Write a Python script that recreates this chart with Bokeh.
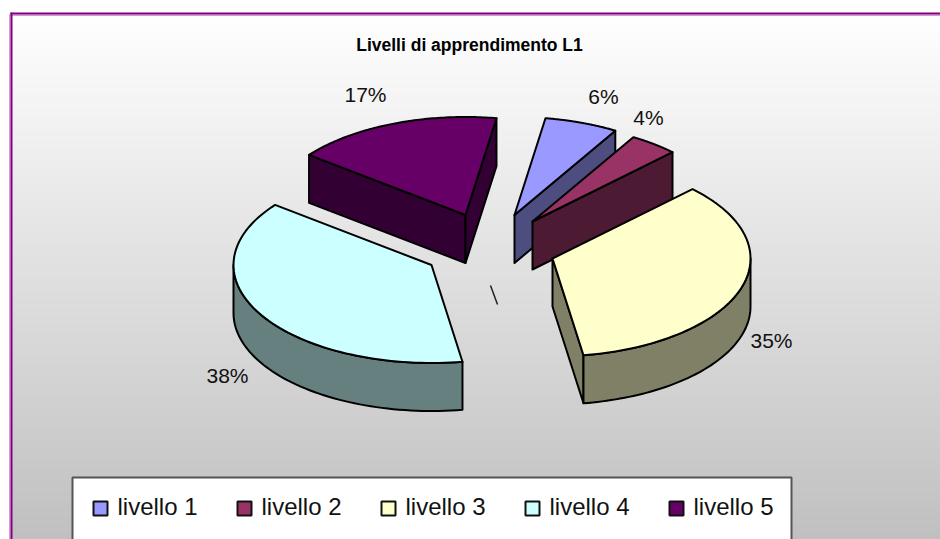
import numpy as np
from bokeh.plotting import figure
from bokeh.core.properties import value
from bokeh.embed import file_html
from bokeh.resources import INLINE

title = "Livelli di apprendimento L1"
categories = ["livello 1", "livello 2", "livello 3", "livello 4", "livello 5"]
shares = [6, 4, 35, 38, 17]
pct_labels = ["6%", "4%", "35%", "38%", "17%"]

top_colors = ["#9999FF", "#993366", "#FFFFCC", "#CCFFFF", "#660066"]
side_colors = ["#4D4D80", "#4D1A33", "#808066", "#668080", "#330033"]
apex_x = [514, 532, 552, 431, 465]
apex_y = [214.5, 221, 258, 264.5, 214.5]
label_x = [603, 648, 771, 227, 365]
label_y = [95.5, 117, 339.5, 374.5, 94]
draw_order = [4, 0, 1, 2, 3]

RX, RY, DEPTH, ROT = 198.0, 98.0, 48.0, 9.0
W, H = 940, 539
X0, Y0 = 0, 0

p = figure(width=W, height=H, x_range=(X0, X0 + W), y_range=(Y0 + H, Y0),
           output_backend="svg", toolbar_location=None, min_border=0,
           outline_line_color=None, background_fill_color="white", border_fill_color="white")
p.axis.visible = False
p.grid.visible = False

# background gradient: each band runs to the bottom, so no seams show
edges = np.arange(14, Y0 + H, 3)
shade = [255 - 63 * (e - 14) / 525 for e in edges]
p.quad(left=11, right=X0 + W, top=edges, bottom=Y0 + H,
       fill_color=["#%02x%02x%02x" % (int(s), int(s), int(s)) for s in shade], line_color=None)

# chart border
p.quad(left=[8.5, 10], right=[X0 + W, X0 + W], top=[14, 12], bottom=[15.5, 14],
       fill_color=["#d39ad3", "#800080"], line_color=None)
p.quad(left=[8.5, 10], right=[10, 12], top=[14, 12], bottom=[Y0 + H, Y0 + H],
       fill_color=["#d39ad3", "#800080"], line_color=None)

def pt(cx, cy, deg):
    r = np.radians(deg)
    return cx + RX * np.sin(r), cy - RY * np.cos(r)

cum = np.cumsum([0] + shares) / sum(shares) * 360 + ROT
EDGE = dict(line_color="black", line_width=2, line_join="round")

for i in draw_order:
    cx, cy = apex_x[i], apex_y[i]
    s, e = cum[i], cum[i + 1]
    # cut faces, visible when turned toward the viewer
    if np.sin(np.radians(s)) < 0:
        x, y = pt(cx, cy, s)
        p.patch([cx, x, x, cx], [cy, y, y + DEPTH, cy + DEPTH], fill_color=side_colors[i], **EDGE)
    if np.sin(np.radians(e)) > 0:
        x, y = pt(cx, cy, e)
        p.patch([cx, x, x, cx], [cy, y, y + DEPTH, cy + DEPTH], fill_color=side_colors[i], **EDGE)
    # outer wall
    a, b = max(s, 90), min(e, 270)
    if b > a:
        t = np.linspace(a, b, 60)
        xs, ys = pt(cx, cy, t)
        p.patch(np.r_[xs, xs[::-1]], np.r_[ys, ys[::-1] + DEPTH], fill_color=side_colors[i], **EDGE)
    # top surface
    t = np.linspace(s, e, 80)
    xs, ys = pt(cx, cy, t)
    p.patch(np.r_[cx, xs], np.r_[cy, ys], fill_color=top_colors[i], **EDGE)

# stray leader mark
p.line([490, 497], [285, 304], line_color="#222222", line_width=1.5)

font = value("Liberation Sans")
p.text(label_x, label_y, text=pct_labels, text_font=font, text_font_size="21px",
       text_color="#111111", text_align="center", text_baseline="middle")
p.text([469], [44], text=[title], text_font=font, text_font_size="17.5px",
       text_font_style="bold", text_color="black", text_align="center", text_baseline="middle")

# legend
p.quad(left=72, right=791, top=477, bottom=Y0 + H + 4, fill_color="white",
       line_color="#555555", line_width=2)
sw_x = [93 + 144 * k for k in range(len(categories))]
p.quad(left=sw_x, right=[v + 14 for v in sw_x], top=501, bottom=515,
       fill_color=top_colors, line_color="#111111", line_width=2)
p.text([v + 24 for v in sw_x], [505.5] * len(sw_x), text=categories, text_font=font, text_font_size="24px",
       text_color="#111111", text_align="left", text_baseline="middle")

open("out.html", "w").write(file_html(p, INLINE))
